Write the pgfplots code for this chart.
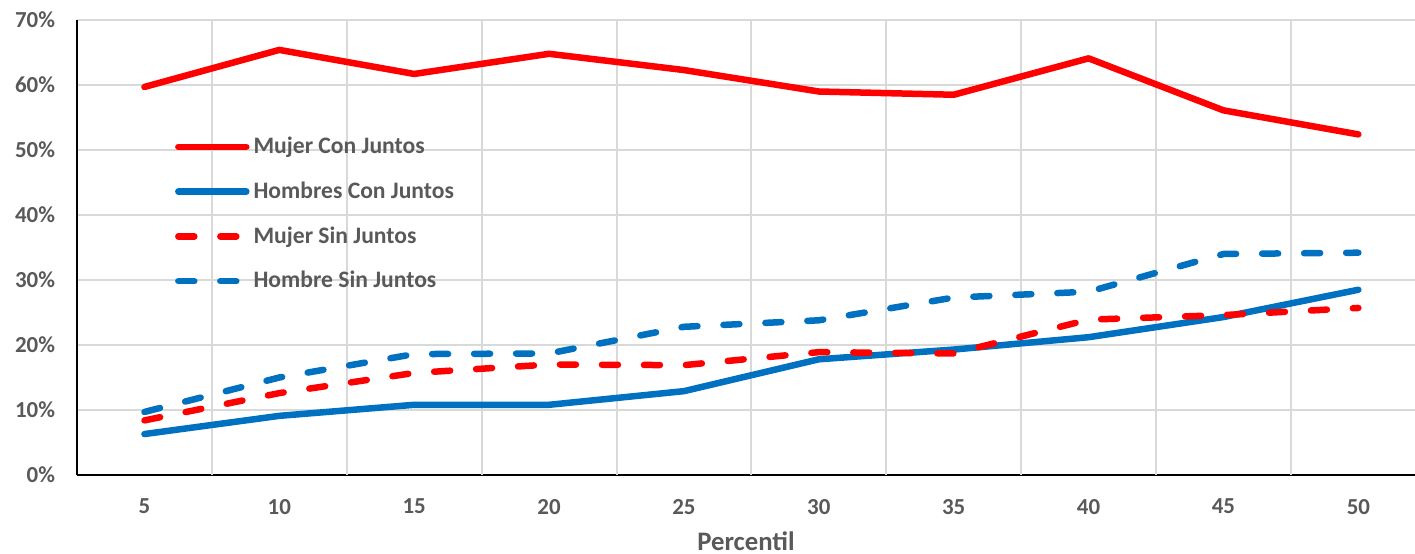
\documentclass[border=0pt]{standalone}
\usepackage{fontspec}
\setmainfont{Carlito}
\usepackage{pgfplots}
\pgfplotsset{compat=1.18}
\definecolor{exred}{HTML}{FF0000}
\definecolor{exblue}{HTML}{0070C0}
\definecolor{txtgrey}{HTML}{595959}
\definecolor{gridgrey}{HTML}{D9D9D9}
\begin{document}
\begin{tikzpicture}
\begin{axis}[
    name=ax,
    scale only axis,
    width=669bp, height=227.5bp,
    xmin=0.5, xmax=10.42,
    ymin=0, ymax=70,
    axis x line*=bottom, axis y line*=left,
    axis line style={black, line width=1.1bp, -},
    xtick={1,...,10},
    xticklabels={5,10,15,20,25,30,35,40,45,50},
    ytick={0,10,...,70},
    yticklabels={0\%,10\%,20\%,30\%,40\%,50\%,60\%,70\%},
    major tick length=0pt,
    extra x ticks={1.5,2.5,...,9.5},
    extra x tick labels={},
    extra x tick style={grid=major, major grid style={gridgrey, line width=1bp}},
    ymajorgrids,
    grid style={gridgrey, line width=1bp},
    /pgf/number format/assume math mode=true,
    tick label style={font=\fontsize{11.5}{13}\selectfont\bfseries, text=txtgrey},
    xticklabel style={yshift=-8.5bp},
    yticklabel style={xshift=-7.5bp},
    xlabel={Percentil},
    xlabel style={font=\fontsize{13.4}{15}\selectfont\bfseries, text=txtgrey,
        inner sep=0pt, yshift=-5.2bp},
    legend style={at={(0.073,0.752)}, anchor=north west, draw=none, fill=none,
        font=\fontsize{11.85}{13.5}\selectfont\bfseries, text=txtgrey,
        row sep=8.6bp, inner sep=0pt},
    legend cell align=left,
    legend image code/.code={\draw[#1] (0bp,0bp) -- (34bp,0bp);},
    every axis plot/.append style={line width=3.25bp, line cap=round, line join=round},
    clip=false,
]
\addplot[exred] coordinates {
(1,59.7) (2,65.4) (3,61.7) (4,64.8) (5,62.3)
(6,59.0) (7,58.5) (8,64.1) (9,56.1) (10,52.4)};
\addlegendentry{Mujer Con Juntos}
\addplot[exblue] coordinates {
(1,6.3) (2,9.1) (3,10.8) (4,10.8) (5,12.9)
(6,17.8) (7,19.3) (8,21.2) (9,24.3) (10,28.5)};
\addlegendentry{Hombres Con Juntos}
\addplot[exred, dash pattern=on 8bp off 13bp] coordinates {
(1,8.4) (2,12.6) (3,15.7) (4,17.0) (5,16.9)
(6,18.9) (7,18.7) (8,23.9) (9,24.6) (10,25.7)};
\addlegendentry{Mujer Sin Juntos}
\addplot[exblue, dash pattern=on 8bp off 13bp] coordinates {
(1,9.7) (2,15.0) (3,18.6) (4,18.7) (5,22.8)
(6,23.8) (7,27.3) (8,28.2) (9,34.0) (10,34.2)};
\addlegendentry{Hombre Sin Juntos}
\end{axis}
\pgfresetboundingbox
\path[use as bounding box] ([xshift=-38.5bp,yshift=-39.5bp]ax.south west) rectangle ++(707.5bp,277bp);
\end{tikzpicture}
\end{document}
